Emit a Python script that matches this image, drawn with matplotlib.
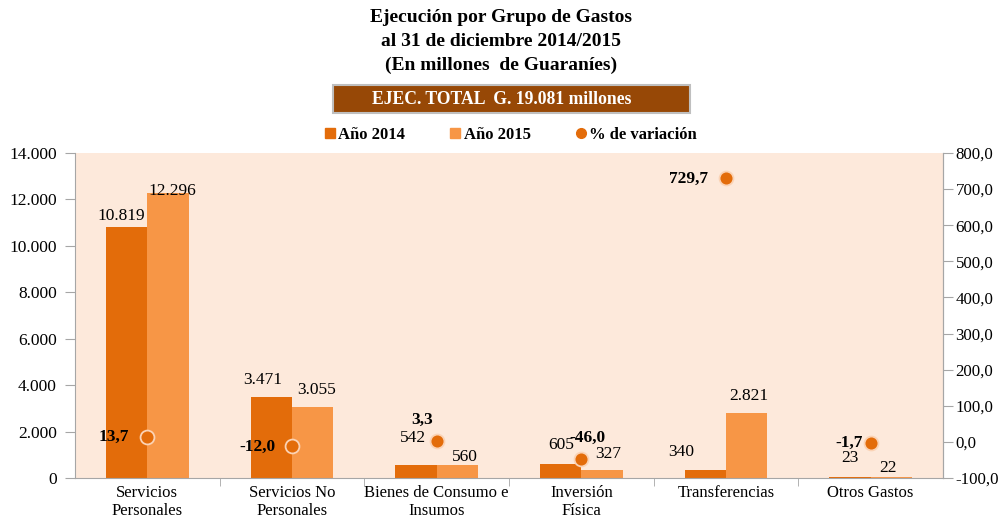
import matplotlib
matplotlib.use("Agg")
import matplotlib.pyplot as plt
import numpy as np
from matplotlib.ticker import FuncFormatter, FixedLocator
from matplotlib.patches import Rectangle
from matplotlib.lines import Line2D

plt.rcParams['font.family'] = ['Liberation Serif', 'DejaVu Serif']

categories = ["Servicios\nPersonales", "Servicios No\nPersonales", "Bienes de Consumo e\nInsumos",
              "Inversión\nFísica", "Transferencias", "Otros Gastos"]
v2014 = [10819, 3471, 542, 605, 340, 23]
v2015 = [12296, 3055, 560, 327, 2821, 22]
variation = [13.7, -12.0, 3.3, -46.0, 729.7, -1.7]

left_ticks = [0, 2000, 4000, 6000, 8000, 10000, 12000, 14000]
right_ticks = [-100, 0, 100, 200, 300, 400, 500, 600, 700, 800]

# label offsets in pixels (style only)
off2014 = [(-5, 11), (-9, 17), (-3, 27), (0, 19), (-24, 18), (0, 19)]
off2015 = [(4, 2), (4, 17), (8, 8), (6, 16), (2, 17), (-3, 9)]
offvar = [(-34, 0), (-35, -1), (-15, 21), (6, 21), (-37, 0), (-22, 0)]

C14 = '#e36c0a'
C15 = '#f79646'
BG = '#fde9db'

fig = plt.figure(figsize=(10.03, 5.22), dpi=100)
ax = fig.add_axes([75/1003, 1-478/522, (943-75)/1003, (478-153)/522])
ax.set_facecolor(BG)
x = np.arange(len(categories))
w = 0.285
ax.bar(x - w/2, v2014, w, color=C14, zorder=2)
ax.bar(x + w/2, v2015, w, color=C15, zorder=2)
ax.set_xlim(-0.5, len(categories) - 0.5)
ax.set_ylim(0, 14000)
ax.set_yticks(left_ticks)
ax.yaxis.set_major_formatter(FuncFormatter(lambda v, p: f"{int(v):,}".replace(",", ".")))
ax.set_xticks(x)
ax.set_xticklabels(categories, fontsize=12, linespacing=1.15)
ax.xaxis.set_minor_locator(FixedLocator(np.arange(0.5, len(categories) - 0.5, 1)))
ax.tick_params(axis='x', which='major', length=0, pad=5)
ax.tick_params(axis='x', which='minor', length=6, color='#a6a6a6', direction='out')
ax.tick_params(axis='y', length=7, color='#a6a6a6', labelsize=12.5, pad=6)
ax.spines['top'].set_visible(False)
for s in ['left', 'bottom', 'right']:
    ax.spines[s].set_color('#a6a6a6')

def fmt(v):
    return f"{v:,}".replace(",", ".")

for i in range(len(categories)):
    ax.annotate(fmt(v2014[i]), (x[i] - w/2, v2014[i]), xytext=off2014[i], textcoords='offset pixels',
                ha='center', va='center', fontsize=12.5, zorder=5)
    ax.annotate(fmt(v2015[i]), (x[i] + w/2, v2015[i]), xytext=off2015[i], textcoords='offset pixels',
                ha='center', va='center', fontsize=12.5, zorder=5)

ax2 = ax.twinx()
ax2.set_ylim(-100, 800)
ax2.set_yticks(right_ticks)
ax2.yaxis.set_major_formatter(FuncFormatter(lambda v, p: f"{v:.1f}".replace(".", ",")))
ax2.tick_params(axis='y', length=7, color='#a6a6a6', labelsize=12.2, pad=2)
for s in ['top', 'left', 'bottom']:
    ax2.spines[s].set_visible(False)
ax2.spines['right'].set_color('#a6a6a6')
ax2.plot(x, variation, linestyle='none', marker='o', markersize=10, color=C14,
         markeredgecolor='#fbd3b5', markeredgewidth=1.3, zorder=4)
for i in range(len(categories)):
    ax2.annotate(f"{variation[i]:.1f}".replace(".", ","), (x[i], variation[i]), xytext=offvar[i],
                 textcoords='offset pixels', ha='center', va='center', fontsize=12.5,
                 fontweight='bold', zorder=5)

# Titles
fig.text(0.5, 1-18/522, "Ejecución por Grupo de Gastos", ha='center', va='center', fontsize=14, fontweight='bold')
fig.text(0.5, 1-42/522, "al 31 de diciembre 2014/2015", ha='center', va='center', fontsize=14, fontweight='bold')
fig.text(0.5, 1-65/522, "(En millones  de Guaraníes)", ha='center', va='center', fontsize=14, fontweight='bold')
fig.patches.append(Rectangle((333/1003, 1-113/522), (690-333)/1003, (113-85)/522,
                             transform=fig.transFigure, fc='#974806', ec='#bfbfbf', lw=1.5, zorder=0))
fig.text(0.5, 1-99/522, "EJEC. TOTAL  G. 19.081 millones", ha='center', va='center', fontsize=12.7,
         fontweight='bold', color='white')

# Legend
handles = [Line2D([], [], marker='s', linestyle='none', color=C14, markersize=7),
           Line2D([], [], marker='s', linestyle='none', color=C15, markersize=7),
           Line2D([], [], marker='o', linestyle='none', color=C14, markersize=7)]
fig.legend(handles, ["Año 2014", "Año 2015", "% de variación"], loc='center',
           bbox_to_anchor=(510/1003, 1-135/522), ncol=3, frameon=False,
           prop={'weight': 'bold', 'size': 12}, handletextpad=0.1, columnspacing=2.6,
           handlelength=0.8)

fig.savefig("out.png", dpi=100)
